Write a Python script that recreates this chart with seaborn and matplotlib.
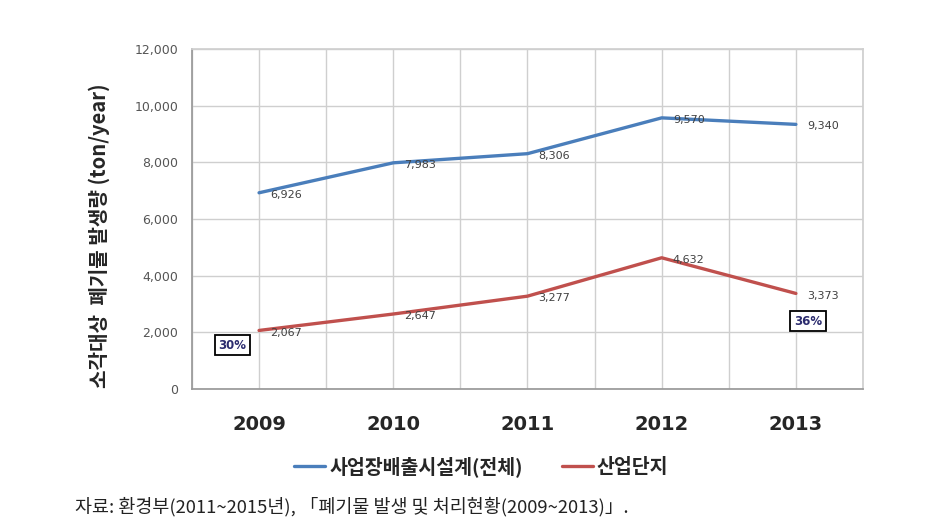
import pandas as pd
import numpy as np
import seaborn as sns
import matplotlib.pyplot as plt

years = ['2009', '2010', '2011', '2012', '2013']
total = [6926, 7983, 8306, 9570, 9340]
complex_ = [2067, 2647, 3277, 4632, 3373]
series_names = ['사업장배출시설계(전체)', '산업단지']
ratio_labels = ['30%', '36%']
yticks = [0, 2000, 4000, 6000, 8000, 10000, 12000]

sns.set_theme(style='white')
plt.rcParams['font.family'] = ['Noto Sans CJK KR', 'DejaVu Sans']

df = pd.DataFrame({
    'x': list(range(len(years))) * 2,
    'value': total + complex_,
    'series': [series_names[0]] * len(years) + [series_names[1]] * len(years),
})

fig = plt.figure(figsize=(9.47, 5.31), dpi=100)
ax = fig.add_axes([0.2027, 0.2674, 0.7086, 0.6403])

sns.lineplot(data=df, x='x', y='value', hue='series',
             palette=['#4A7EBB', '#C0504D'], linewidth=2.4, ax=ax, legend=True)

ax.set_xlim(-0.5, len(years) - 0.5)
ax.set_ylim(0, 12000)
ax.set_yticks(yticks)
ax.set_yticklabels([f'{v:,}' for v in yticks], color='#555555', fontsize=9,
                   family=['DejaVu Sans'])
ax.set_xticks(range(len(years)))
ax.set_xticklabels(years, fontsize=14, fontweight='bold', family=['DejaVu Sans'])
ax.tick_params(axis='x', pad=19, length=0)
ax.tick_params(axis='y', pad=10, length=0)
ax.set_xticks(np.arange(-0.5, len(years), 1.0), minor=True)
ax.grid(True, which='both', axis='x', color='#cfcfcf', linewidth=1)
ax.grid(True, which='major', axis='y', color='#cfcfcf', linewidth=1)
ax.set_axisbelow(True)
for s in ['top', 'right']:
    ax.spines[s].set_color('#cfcfcf')
for s in ['left', 'bottom']:
    ax.spines[s].set_color('#999999')
ax.set_xlabel('')
ax.set_ylabel('소각대상  폐기물 발생량 (ton/year)', fontsize=14.5, fontweight='bold')
ax.yaxis.set_label_coords(-0.122, 0.45)

# data labels
for vals in (total, complex_):
    for i, v in enumerate(vals):
        ax.annotate(f'{v:,}', (i, v), xytext=(8, -1.5), textcoords='offset points',
                    fontsize=8, color='#404040', va='center', ha='left',
                    family=['DejaVu Sans'])

box = dict(boxstyle='square,pad=0.3', facecolor='white', edgecolor='black', linewidth=1.3)
ax.text(-0.2, 1550, ratio_labels[0], fontsize=8.5, fontweight='bold', color='#2b2b6e',
        ha='center', va='center', bbox=box, family=['DejaVu Sans'])
ax.text(4.09, 2400, ratio_labels[1], fontsize=8.5, fontweight='bold', color='#2b2b6e',
        ha='center', va='center', bbox=box, family=['DejaVu Sans'])

handles, labels = ax.get_legend_handles_labels()
ax.legend_.remove()
fig.legend(handles, labels, loc='center', bbox_to_anchor=(0.508, 0.122), ncol=2,
           frameon=False, prop={'weight': 'bold', 'size': 14}, handlelength=1.6,
           handletextpad=0.2, columnspacing=2.0)

fig.text(0.079, 0.045, '자료: 환경부(2011~2015년), 「폐기물 발생 및 처리현황(2009~2013)」.',
         fontsize=13.3, ha='left', va='center', color='#222222')

fig.savefig('out.png', dpi=100)
